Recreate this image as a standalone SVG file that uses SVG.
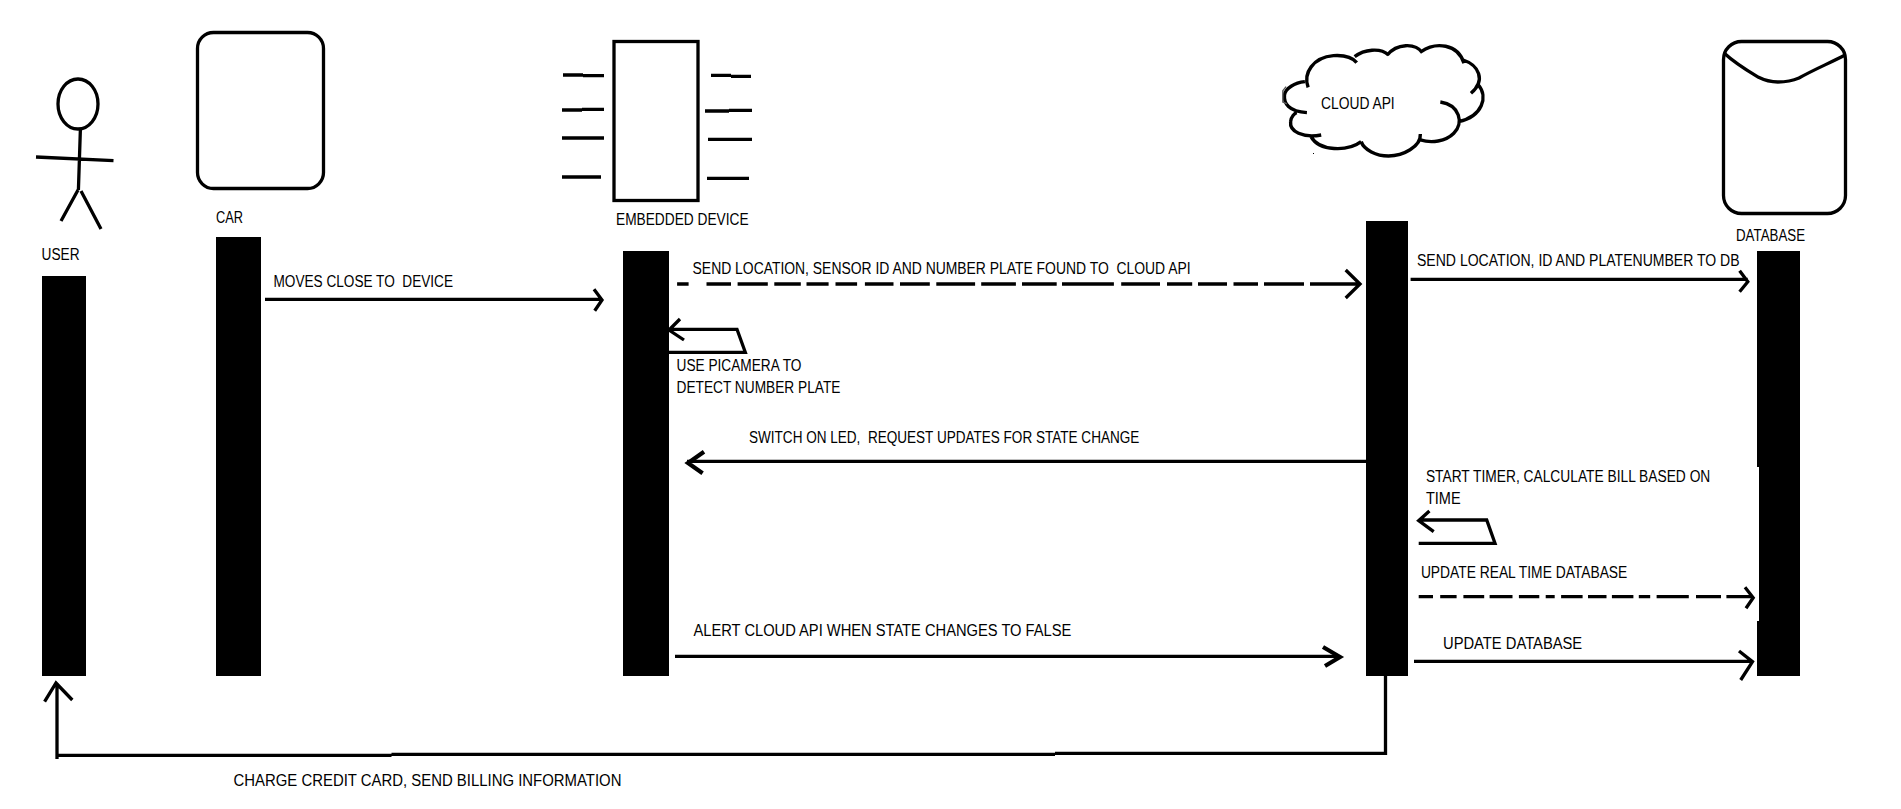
<svg xmlns="http://www.w3.org/2000/svg" width="1901" height="809" viewBox="0 0 1901 809">
<style>
.l{fill:none;stroke:#000;stroke-width:3.3}
.h{fill:none;stroke:#000;stroke-width:4.2}
.b{fill:#000;stroke:none}
text{font-family:"Liberation Sans",Arial,sans-serif;font-size:16px;fill:#000;white-space:pre}
</style>
<rect width="1901" height="809" fill="#fff"/>
<g id="user">
<ellipse class="l" cx="78" cy="104" rx="20" ry="25"/>
<path class="l" d="M80.4 129L78.4 190M36 157L113.5 160.7M78 190L61 221M81 191L101 229"/>
<text x="41.6" y="260" textLength="38" lengthAdjust="spacingAndGlyphs">USER</text>
<rect class="b" x="42" y="276" width="44" height="400"/>
</g>
<g id="car">
<rect class="l" x="197.5" y="32.5" width="126" height="156" rx="16"/>
<text x="216" y="223" textLength="27" lengthAdjust="spacingAndGlyphs">CAR</text>
<rect class="b" x="216" y="237" width="45" height="439"/>
</g>
<g id="embedded-device">
<rect class="l" x="614" y="41.5" width="84" height="159"/>
<path class="l" d="M563 75H583M583 75.7H604M562 110H582M582 109.3H604M562 138H604M562 177H601M711 75.3H731M731 76.3H751M705 111H729M729 110.3H752M708 139.3H752M707 178.3H749"/>
<text x="616" y="225" textLength="132.6" lengthAdjust="spacingAndGlyphs">EMBEDDED DEVICE</text>
<rect class="b" x="623" y="251" width="46" height="425"/>
</g>
<g id="cloud-api">
<g transform="translate(1260 0) scale(0.408 0.3333)">
<path d="M115 338C70 335 58 310 60 285C62 265 85 248 110 245M118 262C105 220 130 172 180 167C205 165 225 170 237 188M232 170C255 148 295 142 315 165M312 165C335 130 380 128 398 158M395 155C430 125 485 130 500 190M498 180C535 195 555 240 517 280M535 255C560 290 545 350 487 365M442 306C490 315 500 370 475 400C455 425 420 430 393 420M393 402C395 440 350 468 315 468C285 468 255 450 248 425M248 425C215 455 145 455 125 410M150 405C105 415 72 395 75 365C76 350 85 340 90 338" fill="none" stroke="#000" stroke-width="3.4" vector-effect="non-scaling-stroke"/>
<path d="M64 260L56 272L56 306L66 312" fill="none" stroke="#555" stroke-width="1.4" vector-effect="non-scaling-stroke"/>
</g>
<rect class="b" x="1313" y="153" width="1" height="1"/>
<text x="1321" y="109" textLength="73.7" lengthAdjust="spacingAndGlyphs">CLOUD API</text>
<rect class="b" x="1366" y="221" width="42" height="455"/>
</g>
<g id="database">
<rect class="l" x="1723.5" y="41.5" width="122" height="172" rx="18"/>
<path class="l" d="M1724 53C1736 64 1748 71 1758 77C1766 81 1772 82 1778 82C1786 82 1792 81 1799 78C1815 69 1830 63 1845 55"/>
<text x="1736" y="241" textLength="69" lengthAdjust="spacingAndGlyphs">DATABASE</text>
<path class="b" d="M1757 251H1800V676H1757V621H1759V467H1757Z"/>
</g>
<g id="connectors">
<g id="c-moves">
<path class="l" d="M265 299.3H602M594 289.3L602 300L594.7 310.7"/>
<text x="273.5" y="287" textLength="179.5" lengthAdjust="spacingAndGlyphs">MOVES CLOSE TO  DEVICE</text>
</g>
<g id="c-send-location">
<path class="l" d="M677.1 284H688.6M706.5 284H731M737.6 284H767.8M774.3 284H800.8M806.5 284H828.6M835.5 284H857.1M864.9 284H893.5M900 284H929.8M936.3 284H975.1M981.2 284H1015.9M1022 284H1056.7M1062 284H1113.9M1121.2 284H1160M1167 284H1192.2M1198 284H1227M1233.5 284H1258M1264 284H1304M1310 284H1360M1345.7 270L1360 284L1345.7 298"/>
<text x="692.6" y="274" textLength="498" lengthAdjust="spacingAndGlyphs">SEND LOCATION, SENSOR ID AND NUMBER PLATE FOUND TO  CLOUD API</text>
</g>
<g id="c-send-db">
<path class="l" d="M1410.6 279.3H1747.8M1739.6 270.7L1747.8 281.7L1739.6 291.7"/>
<text x="1417" y="266" textLength="322.6" lengthAdjust="spacingAndGlyphs">SEND LOCATION, ID AND PLATENUMBER TO DB</text>
</g>
<g id="c-picamera">
<path class="l" d="M669 352.3H745.3L737 329.3H669M680 319L669 330L684 340"/>
<text x="676.5" y="371" textLength="124.9" lengthAdjust="spacingAndGlyphs">USE PICAMERA TO</text>
<text x="676.5" y="393" textLength="163.9" lengthAdjust="spacingAndGlyphs">DETECT NUMBER PLATE</text>
</g>
<g id="c-switch">
<path class="l" d="M1366 461.3H687"/>
<path class="h" d="M704 451.7L688 463L702.6 473.3"/>
<text x="749" y="443.3" textLength="390.3" lengthAdjust="spacingAndGlyphs">SWITCH ON LED,  REQUEST UPDATES FOR STATE CHANGE</text>
</g>
<g id="c-timer">
<path class="l" d="M1418.7 543.3H1495L1486.7 520H1418.7M1429.4 511L1418.7 520.7L1433.7 531.7"/>
<text x="1425.9" y="482" textLength="284.4" lengthAdjust="spacingAndGlyphs">START TIMER, CALCULATE BILL BASED ON</text>
<text x="1425.9" y="504" textLength="34.7" lengthAdjust="spacingAndGlyphs">TIME</text>
</g>
<g id="c-realtime">
<path class="l" d="M1418.7 596.7H1433M1440.2 596.7H1456.6M1463.4 596.7H1484.2M1489.6 596.7H1512.5M1518.9 596.7H1539.3M1545.7 596.7H1554.7M1561.1 596.7H1582.6M1588 596.7H1606.5M1611.9 596.7H1633.4M1638.8 596.7H1650.2M1656.6 596.7H1688.8M1696 596.7H1721M1726.4 596.7H1753.2M1745 587.3L1753.2 597.7L1746 608.3"/>
<text x="1420.9" y="578" textLength="206.4" lengthAdjust="spacingAndGlyphs">UPDATE REAL TIME DATABASE</text>
</g>
<g id="c-alert">
<path class="l" d="M675 656.3H1338"/>
<path class="h" d="M1323 647L1340 657L1325 666"/>
<text x="693.5" y="636" textLength="377.8" lengthAdjust="spacingAndGlyphs">ALERT CLOUD API WHEN STATE CHANGES TO FALSE</text>
</g>
<g id="c-update-db">
<path class="l" d="M1414 661.3H1751M1739 651L1752.5 661.7L1740.7 680"/>
<text x="1443" y="649" textLength="139.2" lengthAdjust="spacingAndGlyphs">UPDATE DATABASE</text>
</g>
<g id="c-charge">
<path class="l" d="M1385.5 676V753.3H1055M1055 754.3H391.5M391.5 755.3H57M57 759V683M44.6 701.7L56 683L72.3 700"/>
<text x="233.5" y="786" textLength="387.9" lengthAdjust="spacingAndGlyphs">CHARGE CREDIT CARD, SEND BILLING INFORMATION</text>
</g>
</g>
</svg>
